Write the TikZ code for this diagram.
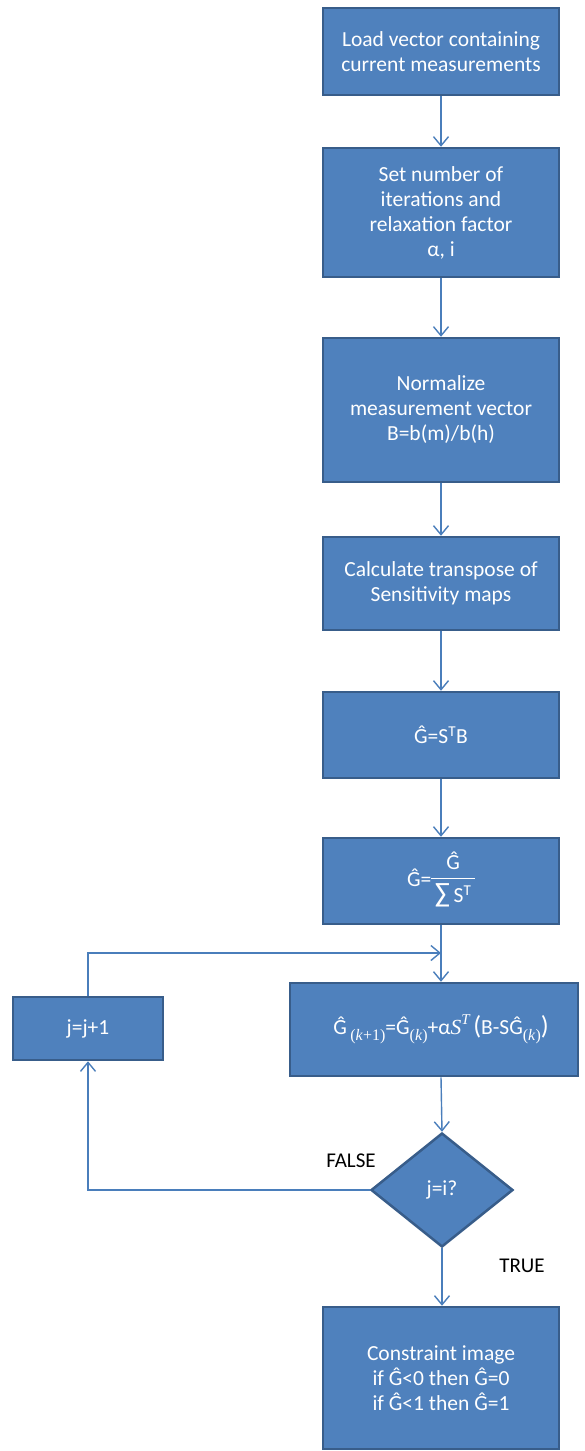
\documentclass[tikz,border=0pt]{standalone}
\usepackage{fontspec}
\setmainfont{Carlito}
\newfontfamily\cambria{Liberation Serif}
\usetikzlibrary{shapes.geometric,arrows.meta}
\definecolor{boxfill}{HTML}{4F81BD}
\definecolor{boxedge}{HTML}{385D8A}
\definecolor{connblue}{HTML}{4A7EBB}
\newcommand\sbx[1]{\raisebox{-0.3em}{\cambria\fontsize{16}{16}\selectfont #1}}
\newcommand\Gh{\^{G}}
\begin{document}
\begin{tikzpicture}[x=1pt,y=-1pt,
  stepbox/.style={rectangle, fill=boxfill, draw=boxedge, line width=2.5pt, text=white,
    font=\fontsize{21.5}{25}\selectfont, align=center, minimum width=236pt, inner sep=0pt},
  decision/.style={diamond, fill=boxfill, draw=boxedge, line width=2.5pt, text=white,
    font=\fontsize{21.5}{25}\selectfont, inner sep=0pt, aspect=1.25, minimum width=142pt, minimum height=114pt},
  link/.style={draw=connblue, line width=1.4pt, -{Straight Barb[length=9pt,width=15pt]}},
  lbl/.style={font=\fontsize{21}{24}\selectfont, text=black}]
\useasboundingbox (0,0) rectangle (585,1451);

\node[stepbox, minimum height=87pt] (b1) at (441,51.5) {Load vector containing\\current measurements};
\node[stepbox, minimum height=129pt] (b2) at (441,212.5) {Set number of\\iterations and\\relaxation factor\\α, i};
\node[stepbox, minimum height=144pt] (b3) at (441,410) {Normalize\\measurement vector\\B=b(m)/b(h)};
\node[stepbox, minimum height=93pt] (b4) at (441,583.5) {Calculate transpose of\\Sensitivity maps};
\node[stepbox, minimum height=86pt] (b5) at (441,735) {\Gh=S\textsuperscript{T}B};
\node[stepbox, minimum height=86pt] (b6) at (441,881)
  {\Gh=\setlength{\arrayrulewidth}{1.3pt}\begin{tabular}{@{\,}c@{\,}}\Gh\\[1pt]\hline\rule{0pt}{24pt}{\fontsize{28}{28}\selectfont ∑}\,S\textsuperscript{T}\end{tabular}};
\node[stepbox, minimum width=288pt, minimum height=93pt] (b7) at (434,1029.5)
  {\hspace*{14pt}\Gh\,\sbx{(\textit{k}+1)}=\Gh\sbx{(\textit{k})}+α{\cambria\itshape S}\raisebox{0.45em}{\cambria\itshape\fontsize{15}{15}\selectfont T}\,{\fontsize{26}{26}\selectfont(}B-S\Gh\sbx{(\textit{k})}{\fontsize{26}{26}\selectfont)}};
\node[stepbox, minimum width=150pt, minimum height=63pt] (bj) at (88,1028.5) {j=j+1};
\node[decision] (d) at (442,1190) {j=i?};
\node[stepbox, minimum height=142pt] (b8) at (441,1378) {Constraint image\\if \Gh<0 then \Gh=0\\if \Gh<1 then \Gh=1};

\node[lbl] (lf) at (351,1161) {FALSE};
\node[lbl] (lt) at (522,1266) {TRUE};

\coordinate (jn) at (441,953);

\draw[link] (b1.south) -- (b2.north);
\draw[link] (b2.south) -- (b3.north);
\draw[link] (b3.south) -- (b4.north);
\draw[link] (b4.south) -- (b5.north);
\draw[link] (b5.south) -- (b6.north);
\draw[link] (b6.south) -- (b6.south |- b7.north);
\draw[link] (bj.north) |- (jn);
\draw[link] (b7.south -| b6.south) -- (d.north);
\draw[link] (d.west) -| (bj.south);
\draw[link] (d.south) -- (d.south |- b8.north);
\end{tikzpicture}
\end{document}
